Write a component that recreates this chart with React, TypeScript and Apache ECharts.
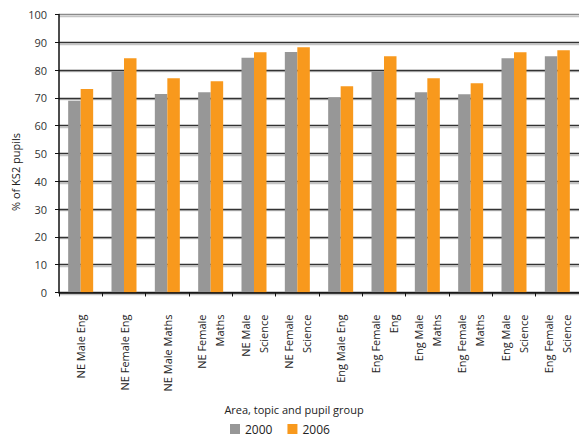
import React, { useEffect, useRef } from "react";
import * as echarts from "echarts";

const categories = [
  "NE Male Eng",
  "NE Female Eng",
  "NE Male Maths",
  "NE Female\nMaths",
  "NE Male\nScience",
  "NE Female\nScience",
  "Eng Male Eng",
  "Eng Female\nEng",
  "Eng Male\nMaths",
  "Eng Female\nMaths",
  "Eng Male\nScience",
  "Eng Female\nScience",
];
const values2000 = [69, 79.3, 71.4, 72, 84.4, 86.5, 70.2, 79.3, 72, 71.3, 84.3, 85];
const values2006 = [73.2, 84.3, 77.1, 76, 86.4, 88.2, 74.2, 85, 77.1, 75.3, 86.4, 87.1];
const yTicks = { min: 0, max: 100, interval: 10 };

const FONT = "'Open Sans', 'DejaVu Sans', sans-serif";

export default function App() {
  const ref = useRef<HTMLDivElement>(null);
  useEffect(() => {
    if (!ref.current) return;
    const chart = echarts.init(ref.current, undefined, { renderer: "svg" });
    const gridColors = [
      "#333", "#333", "#333", "#333", "#333", "#333",
      "#333", "#333", "#333", "#333", "#8a8a8a",
    ];
    chart.setOption({
      animation: false,
      textStyle: { fontFamily: FONT },
      grid: [
        { left: 59, top: 14.5, right: -3, bottom: 144.5, containLabel: false },
        { left: 59, top: 16, right: -3, bottom: 143, containLabel: false },
      ],
      legend: {
        left: 230,
        top: 423,
        padding: 0,
        itemWidth: 10,
        itemHeight: 10,
        itemGap: 15,
        icon: "rect",
        textStyle: { fontFamily: FONT, fontSize: 12, lineHeight: 12, color: "#222" },
        data: ["2000", "2006"],
      },
      graphic: [
        {
          type: "text",
          x: 294,
          y: 409,
          style: {
            text: "Area, topic and pupil group",
            font: `11px ${FONT}`,
            fill: "#222",
            align: "center",
            verticalAlign: "middle",
          },
        },
        {
          type: "text",
          x: 15,
          y: 172,
          rotation: Math.PI / 2,
          style: {
            text: "% of KS2 pupils",
            font: `11px ${FONT}`,
            fill: "#222",
            align: "center",
            verticalAlign: "middle",
          },
        },
      ],
      xAxis: [
        {
          type: "category",
          gridIndex: 0,
          data: categories,
          boundaryGap: true,
          z: 5,
          axisLine: { show: true, lineStyle: { color: "#111", width: 1.5 } },
          axisTick: { show: true, length: 4, inside: false, lineStyle: { color: "#111" } },
          axisLabel: {
            interval: 0,
            rotate: 90,
            margin: 22,
            fontFamily: FONT,
            fontSize: 11,
            color: "#222",
            lineHeight: 18,
          },
        },
        {
          type: "category",
          gridIndex: 1,
          data: categories,
          show: false,
        },
      ],
      yAxis: [
        {
          type: "value",
          gridIndex: 0,
          min: yTicks.min,
          max: yTicks.max,
          interval: yTicks.interval,
          z: 3,
          axisLine: { show: true, lineStyle: { color: "#111", width: 1.5 } },
          axisTick: { show: true, length: 4, inside: false, lineStyle: { color: "#111" } },
          axisLabel: { margin: 12, fontFamily: FONT, fontSize: 11, color: "#333" },
          splitLine: {
            show: true,
            lineStyle: { color: gridColors, width: 1.3 },
          },
        },
        {
          type: "value",
          gridIndex: 1,
          min: yTicks.min,
          max: yTicks.max,
          interval: yTicks.interval,
          z: 1,
          axisLine: { show: false },
          axisTick: { show: false },
          axisLabel: { show: false },
          splitLine: { show: true, lineStyle: { color: "#c4c4c4", width: 1.3 } },
        },
      ],
      series: [
        {
          name: "2000",
          type: "bar",
          data: values2000,
          barWidth: 12.5,
          barGap: "0%",
          z: 4,
          itemStyle: { color: "#979797" },
        },
        {
          name: "2006",
          type: "bar",
          data: values2006,
          barWidth: 12.5,
          barGap: "0%",
          z: 4,
          itemStyle: { color: "#f8991d" },
        },
      ],
    });
    return () => chart.dispose();
  }, []);
  return <div ref={ref} style={{ width: 579, height: 437, position: "absolute", left: 0, top: 0 }} />;
}
